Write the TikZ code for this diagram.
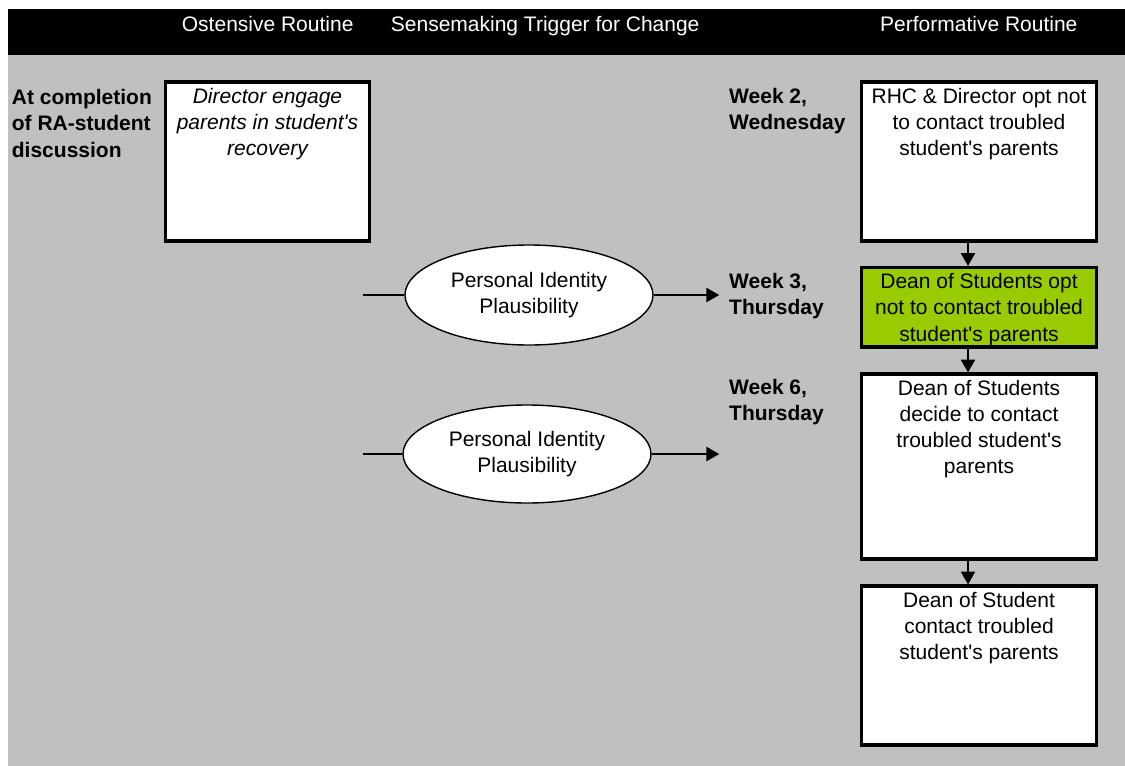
\documentclass[tikz,border=0pt]{standalone}
\usepackage{fontspec}
\setmainfont{Liberation Sans}
\usetikzlibrary{shapes.geometric,arrows.meta}
\definecolor{panelgray}{HTML}{C0C0C0}
\definecolor{hilite}{HTML}{99CC00}
\tikzset{
  body/.style={font=\fontsize{21}{26.3}\selectfont},
  head/.style={body, text=white, anchor=base west, inner sep=0pt},
  when/.style={font=\fontsize{21}{26.3}\selectfont\bfseries, anchor=base west, inner sep=0pt},
  stepbox/.style={body, draw=black, line width=3.3pt, fill=white, anchor=north west, inner sep=0pt, outer sep=0pt},
  trigger/.style={body, ellipse, draw=black, line width=1.4pt, fill=white, minimum width=248pt, align=center, inner sep=0pt},
  feed/.style={line width=2.6pt},
  flow/.style={line width=2.6pt, -{Triangle[length=13pt,width=14pt]}},
}
% box contents: fixed-height top-aligned paragraph, first baseline 21pt below the frame
\newcommand{\stepcontent}[3]{\parbox[t][#1][t]{#2}{\centering\rule{0pt}{21pt}#3}}
\newcommand{\whenlabel}[1]{\parbox[t]{160pt}{\raggedright #1}}
\newcommand{\ap}{\textquotesingle}
\begin{document}
\begin{tikzpicture}[x=1pt,y=-1pt]
  \useasboundingbox (0,0) rectangle (1125,766);
  % page, header band and grey panel
  \fill[white] (0,0) rectangle (1125,766);
  \fill[black] (8,9) rectangle (1125,55);
  \fill[panelgray] (8,55) rectangle (1125,766);

  % column headings
  \node[head] (hOst) at (181.7,31) {Ostensive Routine};
  \node[head] (hSen) at (390.7,31) {Sensemaking Trigger for Change};
  \node[head] (hPer) at (880,31) {Performative Routine};

  % time labels
  \node[when] (wA) at (11.7,104.5) {\whenlabel{At completion\\of RA-student\\discussion}};
  \node[when] (w2) at (729,103.3) {\whenlabel{Week 2,\\Wednesday}};
  \node[when] (w3) at (729,288.5) {\whenlabel{Week 3,\\Thursday}};
  \node[when] (w6) at (729,394.5) {\whenlabel{Week 6,\\Thursday}};

  % ostensive routine
  \node[stepbox] (b1) at (165.5,82) {\stepcontent{159pt}{204pt}{\itshape Director engage\\parents in student\ap s\\recovery}};

  % performative routine
  \node[stepbox] (b2) at (861.5,82) {\stepcontent{159pt}{235pt}{RHC \& Director opt not\\to contact troubled\\student\ap s parents}};
  \node[stepbox, fill=hilite] (b3) at (861.5,267.5) {\stepcontent{79.5pt}{235pt}{Dean of Students opt\\not to contact troubled\\student\ap s parents}};
  \node[stepbox] (b4) at (861.5,374) {\stepcontent{185pt}{235pt}{Dean of Students\\decide to contact\\troubled student\ap s\\parents}};
  \node[stepbox] (b5) at (861.5,586) {\stepcontent{159pt}{235pt}{Dean of Student\\contact troubled\\student\ap s parents}};

  \draw[flow, shorten >=1.5pt] ([xshift=-11pt]b2.south) -- ([xshift=-11pt]b3.north);
  \draw[flow, shorten >=1.5pt] ([xshift=-11pt]b3.south) -- ([xshift=-11pt]b4.north);
  \draw[flow, shorten >=1.5pt] ([xshift=-11pt]b4.south) -- ([xshift=-11pt]b5.north);

  % sensemaking triggers
  \node[trigger, minimum height=100pt] (t1) at (529,295) {Personal Identity\\Plausibility};
  \node[trigger, minimum height=98pt] (t2) at (527,454) {Personal Identity\\Plausibility};

  \coordinate (in1) at (362.5,295);
  \coordinate (out1) at (719.3,295);
  \coordinate (in2) at (362.5,454);
  \coordinate (out2) at (719.3,454);

  \draw[feed] (in1) -- (t1.west);
  \draw[flow] (t1.east) -- (out1);
  \draw[feed] (in2) -- (t2.west);
  \draw[flow] (t2.east) -- (out2);
\end{tikzpicture}
\end{document}
